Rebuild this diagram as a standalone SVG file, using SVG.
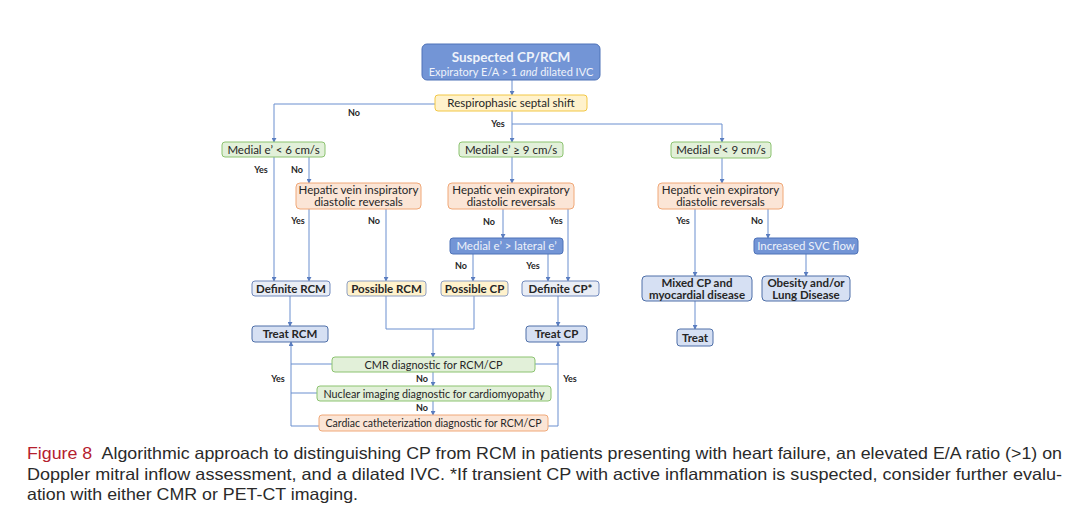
<svg xmlns="http://www.w3.org/2000/svg" width="1085" height="529" viewBox="0 0 1085 529">
<defs>
<marker id="ah" viewBox="0 0 6 6" refX="5" refY="3" markerWidth="5" markerHeight="5" orient="auto">
<path d="M0,0 L6,3 L0,6 z" fill="#5a7dc0"/>
</marker>
<style>
.t{font-family:Lato,"Open Sans","Liberation Sans",sans-serif;font-size:11.5px;fill:#262626;text-anchor:middle}
.b{font-weight:bold}
.w{fill:#eef2fa}
.lbl{font-family:Lato,"Liberation Sans",sans-serif;font-size:9px;font-weight:bold;fill:#262626;text-anchor:middle}
.g rect{fill:#e2f0d9;stroke:#8cc370;stroke-width:1}
.y rect{fill:#fff2cc;stroke:#f2c744;stroke-width:1}
.o rect{fill:#fbe5d6;stroke:#f0a878;stroke-width:1}
.db rect{fill:#7395d6;stroke:#4e72b8;stroke-width:1}
.lb rect{fill:#e9edf5;stroke:#7189bd;stroke-width:1}
.mb rect{fill:#d6e0f3;stroke:#4e6fa8;stroke-width:1}
.py rect{fill:#fff2cc;stroke:#8fa0c2;stroke-width:1}
.c path{fill:none;stroke:#6b8fcf;stroke-width:1}
.cap{font-family:"Liberation Sans",Arial,sans-serif;font-size:16.5px;fill:#2a2a2a}
</style>
</defs>
<rect width="1085" height="529" fill="#fff"/>

<g class="c" id="connectors">
<path d="M512,80 V95" marker-end="url(#ah)"/>
<path d="M435,104 H274 V142" marker-end="url(#ah)"/>
<path d="M512,111 V142" marker-end="url(#ah)"/>
<path d="M512,124 H722 V142" marker-end="url(#ah)"/>
<path d="M274,157 V281" marker-end="url(#ah)"/>
<path d="M309,157 V183" marker-end="url(#ah)"/>
<path d="M309,209 V281" marker-end="url(#ah)"/>
<path d="M386,209 V281" marker-end="url(#ah)"/>
<path d="M512,157 V183" marker-end="url(#ah)"/>
<path d="M503,209 V238" marker-end="url(#ah)"/>
<path d="M568,209 V281" marker-end="url(#ah)"/>
<path d="M473,254 V281" marker-end="url(#ah)"/>
<path d="M548,254 V281" marker-end="url(#ah)"/>
<path d="M722,158 V183" marker-end="url(#ah)"/>
<path d="M695,209 V276" marker-end="url(#ah)"/>
<path d="M768,209 V238" marker-end="url(#ah)"/>
<path d="M806,254 V276" marker-end="url(#ah)"/>
<path d="M695,301 V329" marker-end="url(#ah)"/>
<path d="M290,296 V326" marker-end="url(#ah)"/>
<path d="M558,296 V326" marker-end="url(#ah)"/>
<path d="M386,296 V329 H474 V296"/>
<path d="M433,329 V357" marker-end="url(#ah)"/>
<path d="M433,372 V386" marker-end="url(#ah)"/>
<path d="M433,401 V415" marker-end="url(#ah)"/>
<path d="M332,364 H291"/>
<path d="M317,393 H291"/>
<path d="M319,426 H291 V342" marker-end="url(#ah)"/>
<path d="M535,364 H558"/>
<path d="M548,426 H558 V342" marker-end="url(#ah)"/>
</g>

<g id="labels">
<text class="lbl" x="354" y="116">No</text>
<text class="lbl" x="498" y="127">Yes</text>
<text class="lbl" x="261" y="173">Yes</text>
<text class="lbl" x="297" y="173">No</text>
<text class="lbl" x="298" y="224">Yes</text>
<text class="lbl" x="374" y="224">No</text>
<text class="lbl" x="489" y="225">No</text>
<text class="lbl" x="556" y="224">Yes</text>
<text class="lbl" x="461" y="269">No</text>
<text class="lbl" x="533" y="269">Yes</text>
<text class="lbl" x="683" y="224">Yes</text>
<text class="lbl" x="757" y="224">No</text>
<text class="lbl" x="422" y="382">No</text>
<text class="lbl" x="422" y="411">No</text>
<text class="lbl" x="278" y="382">Yes</text>
<text class="lbl" x="570" y="382">Yes</text>
</g>

<g id="n-suspected" class="db"><rect x="422" y="44" width="178" height="36" rx="5"/>
<text class="t b w" x="511" y="62" style="font-size:13.5px">Suspected CP/RCM</text>
<text class="t w" x="511" y="76" style="font-size:11px">Expiratory E/A &gt; 1 <tspan font-style="italic">and</tspan> dilated IVC</text></g>

<g id="n-resp" class="y"><rect x="435" y="95" width="152" height="16" rx="3"/>
<text class="t" x="511" y="107">Respirophasic septal shift</text></g>

<g id="n-med6" class="g"><rect x="222" y="142" width="103" height="15" rx="3"/>
<text class="t" x="273.5" y="153.5">Medial e’ &lt; 6 cm/s</text></g>
<g id="n-med9a" class="g"><rect x="459" y="142" width="104" height="15" rx="3"/>
<text class="t" x="511" y="153.5">Medial e’  ≥ 9 cm/s</text></g>
<g id="n-med9b" class="g"><rect x="671" y="142" width="100" height="16" rx="3"/>
<text class="t" x="721" y="154">Medial e’&lt; 9 cm/s</text></g>

<g id="n-hvinsp" class="o"><rect x="296" y="183" width="125" height="26" rx="4"/>
<text class="t" x="358.5" y="194">Hepatic vein inspiratory</text>
<text class="t" x="358.5" y="206">diastolic reversals</text></g>
<g id="n-hvexp1" class="o"><rect x="448" y="183" width="126" height="26" rx="4"/>
<text class="t" x="511" y="194">Hepatic vein expiratory</text>
<text class="t" x="511" y="206">diastolic reversals</text></g>
<g id="n-hvexp2" class="o"><rect x="658" y="183" width="125" height="26" rx="4"/>
<text class="t" x="720.5" y="194">Hepatic vein expiratory</text>
<text class="t" x="720.5" y="206">diastolic reversals</text></g>

<g id="n-medlat" class="db"><rect x="450" y="238" width="113" height="16" rx="3"/>
<text class="t w" x="506.5" y="250">Medial e’ &gt; lateral e’</text></g>
<g id="n-svc" class="db"><rect x="754" y="238" width="104" height="16" rx="3"/>
<text class="t w" x="806" y="250">Increased SVC flow</text></g>

<g id="n-defrcm" class="lb"><rect x="252" y="281" width="78" height="15" rx="3"/>
<text class="t b" x="291" y="292.5">Definite RCM</text></g>
<g id="n-posrcm" class="py"><rect x="347" y="281" width="79" height="15" rx="3"/>
<text class="t b" x="386.5" y="292.5">Possible RCM</text></g>
<g id="n-poscp" class="py"><rect x="441" y="281" width="67" height="15" rx="3"/>
<text class="t b" x="474.5" y="292.5">Possible CP</text></g>
<g id="n-defcp" class="lb"><rect x="522" y="281" width="77" height="15" rx="3"/>
<text class="t b" x="560.5" y="292.5">Definite CP*</text></g>

<g id="n-mixed" class="mb"><rect x="642" y="276" width="110" height="25" rx="4"/>
<text class="t b" x="697" y="287">Mixed CP and</text>
<text class="t b" x="697" y="299">myocardial disease</text></g>
<g id="n-obesity" class="mb"><rect x="762" y="276" width="88" height="25" rx="4"/>
<text class="t b" x="806" y="287">Obesity and/or</text>
<text class="t b" x="806" y="299">Lung Disease</text></g>

<g id="n-treatrcm" class="mb"><rect x="252" y="326" width="76" height="16" rx="3"/>
<text class="t b" x="290" y="338">Treat RCM</text></g>
<g id="n-treatcp" class="mb"><rect x="526" y="326" width="61" height="16" rx="3"/>
<text class="t b" x="556.5" y="338">Treat CP</text></g>
<g id="n-treat" class="mb"><rect x="677" y="329" width="36" height="17" rx="3"/>
<text class="t b" x="695" y="341.5">Treat</text></g>

<g id="n-cmr" class="g"><rect x="332" y="357" width="203" height="15" rx="3"/>
<text class="t" x="433.5" y="368.5" textLength="138" lengthAdjust="spacingAndGlyphs">CMR diagnostic for RCM/CP</text></g>
<g id="n-nuc" class="g"><rect x="317" y="386" width="234" height="15" rx="3"/>
<text class="t" x="434" y="397.5" textLength="221" lengthAdjust="spacingAndGlyphs">Nuclear imaging diagnostic for cardiomyopathy</text></g>
<g id="n-cath" class="o"><rect x="319" y="415" width="229" height="16" rx="3"/>
<text class="t" x="433.5" y="427" textLength="216" lengthAdjust="spacingAndGlyphs">Cardiac catheterization diagnostic for RCM/CP</text></g>

<g id="caption">
<text class="cap" x="27" y="459" textLength="1035" lengthAdjust="spacingAndGlyphs"><tspan fill="#b5202e">Figure 8</tspan><tspan dx="5"> Algorithmic approach to distinguishing CP from RCM in patients presenting with heart failure, an elevated E/A ratio (&gt;1) on</tspan></text>
<text class="cap" x="27" y="480" textLength="1035" lengthAdjust="spacingAndGlyphs">Doppler mitral inflow assessment, and a dilated IVC. *If transient CP with active inflammation is suspected, consider further evalu-</text>
<text class="cap" x="27" y="500" textLength="331" lengthAdjust="spacingAndGlyphs">ation with either CMR or PET-CT imaging.</text>
</g>
</svg>
